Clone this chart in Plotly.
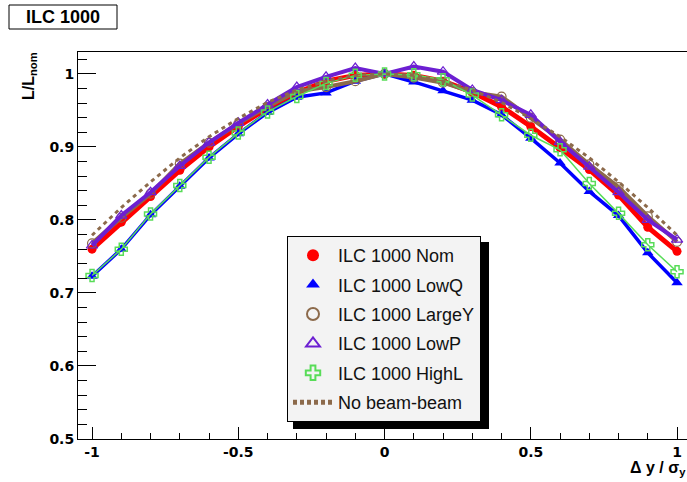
import plotly.graph_objects as go

# ---- data ----
dy = [-1.0, -0.9, -0.8, -0.7, -0.6, -0.5, -0.4, -0.3, -0.2, -0.1, 0.0,
      0.1, 0.2, 0.3, 0.4, 0.5, 0.6, 0.7, 0.8, 0.9, 1.0]

nom = [0.760, 0.797, 0.832, 0.868, 0.900, 0.928, 0.953, 0.974, 0.990, 0.998, 1.000,
       0.998, 0.990, 0.975, 0.955, 0.928, 0.899, 0.869, 0.834, 0.790, 0.757]
lowq = [0.723, 0.760, 0.807, 0.846, 0.885, 0.918, 0.947, 0.968, 0.974, 0.990, 1.000,
        0.989, 0.977, 0.964, 0.944, 0.912, 0.878, 0.839, 0.806, 0.755, 0.714]
largey = [0.768, 0.803, 0.836, 0.877, 0.906, 0.932, 0.955, 0.976, 0.982, 0.990, 1.000,
          0.995, 0.988, 0.975, 0.969, 0.940, 0.910, 0.876, 0.845, 0.805, 0.770]
lowp = [0.765, 0.806, 0.838, 0.874, 0.906, 0.933, 0.958, 0.982, 0.996, 1.008, 1.000,
        1.010, 1.003, 0.978, 0.964, 0.944, 0.907, 0.873, 0.838, 0.800, 0.773]
highl = [0.724, 0.760, 0.808, 0.847, 0.886, 0.919, 0.948, 0.969, 0.987, 0.998, 1.000,
         0.999, 0.992, 0.971, 0.944, 0.916, 0.896, 0.850, 0.809, 0.766, 0.729]
nobb = [0.779, 0.817, 0.852, 0.885, 0.914, 0.939, 0.961, 0.978, 0.990, 0.998, 1.000,
        0.998, 0.990, 0.978, 0.961, 0.939, 0.914, 0.885, 0.852, 0.817, 0.779]

names = ["ILC 1000 Nom", "ILC 1000 LowQ", "ILC 1000 LargeY", "ILC 1000 LowP", "ILC 1000 HighL"]
nobb_name = "No beam-beam"

x_tickvals = [-1, -0.5, 0, 0.5, 1]
x_ticktext = ["-1", "-0.5", "0", "0.5", "1"]
y_tickvals = [0.5, 0.6, 0.7, 0.8, 0.9, 1.0]
y_ticktext = ["0.5", "0.6", "0.7", "0.8", "0.9", "1"]

# ---- styles ----
RED = "#ff0000"
BLUE = "#0000ff"
BROWN = "#8c6a4b"
PURPLE = "#6c1fd2"
GREEN = "#58dc58"

series = [
    (nom, names[0], RED, 5, dict(symbol="circle", size=9, color=RED)),
    (lowq, names[1], BLUE, 3.5, dict(symbol="triangle-up", size=10, color=BLUE)),
    (largey, names[2], BROWN, 4, dict(symbol="circle-open", size=9, color=BROWN, line=dict(width=1.2))),
    (lowp, names[3], PURPLE, 4, dict(symbol="triangle-up-open", size=10, color=PURPLE, line=dict(width=1.2))),
    (highl, names[4], GREEN, 1.5, dict(symbol="cross-open", size=10, color=GREEN, line=dict(width=1.5))),
]

fig = go.Figure()

for vals, name, col, lw, mk in series:
    fig.add_trace(go.Scatter(x=dy, y=vals, mode="lines+markers", name=name,
                             line=dict(color=col, width=lw), marker=mk,
                             showlegend=False, hoverinfo="skip"))
fig.add_trace(go.Scatter(x=dy, y=nobb, mode="lines", name=nobb_name,
                         line=dict(color=BROWN, width=3, dash="4px,4px"),
                         showlegend=False, hoverinfo="skip"))

# legend-only entries
for i, (vals, name, col, lw, mk) in enumerate(series):
    fig.add_trace(go.Scatter(x=[None], y=[None], mode="markers", name=name,
                             marker=mk, legendgroup=f"g{i}", showlegend=True))
fig.add_trace(go.Scatter(x=[None], y=[None], mode="lines", name=nobb_name,
                         line=dict(color=BROWN, width=2.5, dash="4px,3px"),
                         legendgroup="g6", showlegend=True))

# plot area pixels: x 78..687, y 52..439
L, T, W, H = 78, 52, 609, 387
def px(X):
    return (X - L) / W
def py(Y):
    return 1 - (Y - T) / H

fig.update_layout(
    width=687, height=482,
    margin=dict(l=L, r=0, t=T, b=482 - T - H, pad=0, autoexpand=False),
    paper_bgcolor="white", plot_bgcolor="white",
    font=dict(family="Liberation Sans, Arial, sans-serif", color="black"),
    showlegend=True,
    legend=dict(
        x=px(287), y=py(236), xanchor="left", yanchor="top",
        bgcolor="#f3f3f3", bordercolor="black", borderwidth=1,
        font=dict(family="Liberation Sans, Arial, sans-serif", size=18, color="#111111"),
        tracegroupgap=3, itemsizing="constant", itemwidth=40,
        entrywidth=140, entrywidthmode="pixels",
    ),
    xaxis=dict(
        range=[-1.048, 1.034], showgrid=False, zeroline=False, automargin=False,
        showline=True, linecolor="black", linewidth=1, mirror=True,
        ticks="inside", ticklen=12, tickcolor="black", tickwidth=1,
        tickvals=x_tickvals, ticktext=x_ticktext,
        tickfont=dict(family="DejaVu Sans, sans-serif", size=14, color="black", weight="bold"),
        minor=dict(ticks="inside", ticklen=6, dtick=0.1, tick0=0, tickcolor="black", tickwidth=1, showgrid=False),
    ),
    yaxis=dict(
        range=[0.5, 1.03], showgrid=False, zeroline=False, automargin=False,
        showline=True, linecolor="black", linewidth=1, mirror=False,
        ticks="inside", ticklen=18, tickcolor="black", tickwidth=1,
        tickvals=y_tickvals, ticktext=y_ticktext,
        tickfont=dict(family="DejaVu Sans, sans-serif", size=14, color="black", weight="bold"),
        minor=dict(ticks="inside", ticklen=9, dtick=0.02, tick0=0, tickcolor="black", tickwidth=1, showgrid=False),
    ),
)

# legend shadow
fig.add_shape(type="rect", xref="paper", yref="paper",
              x0=px(293), x1=px(489), y0=py(429), y1=py(242),
              fillcolor="black", line=dict(width=0), layer="above")

# title box
fig.add_shape(type="rect", xref="paper", yref="paper",
              x0=px(9), x1=px(117), y0=py(29), y1=py(5),
              fillcolor="white", line=dict(color="black", width=1))
fig.add_annotation(xref="paper", yref="paper", x=px(63), y=py(17),
                   text="<b>ILC 1000</b>", showarrow=False,
                   font=dict(family="Liberation Sans, Arial, sans-serif", size=18, color="black"),
                   xanchor="center", yanchor="middle")

# axis titles
fig.add_annotation(xref="paper", yref="paper", x=px(29), y=py(76),
                   text="<b>L/L<sub>nom</sub></b>", showarrow=False, textangle=-90,
                   font=dict(family="Liberation Sans, Arial, sans-serif", size=16, color="black"),
                   xanchor="center", yanchor="middle")
fig.add_annotation(xref="paper", yref="paper", x=px(628), y=py(468),
                   text="<b>Δ y / σ<sub>y</sub></b>", showarrow=False,
                   font=dict(family="Liberation Sans, Arial, sans-serif", size=16, color="black"),
                   xanchor="left", yanchor="middle")

fig.write_html("out.html",
               config={"displayModeBar": False, "staticPlot": True},
               post_script="document.body.style.margin='0';document.body.style.overflow='hidden';")
